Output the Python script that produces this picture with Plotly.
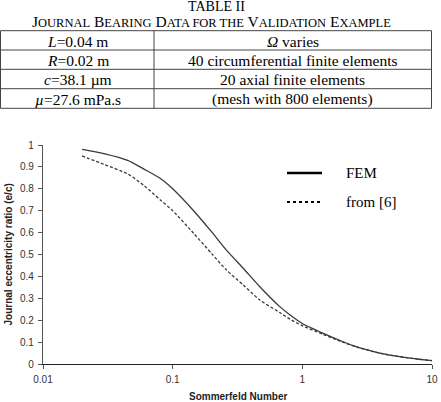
import plotly.graph_objects as go

# ---------------- data ----------------
sommerfeld = [0.02, 0.03, 0.045, 0.06, 0.08, 0.1, 0.145, 0.2, 0.26, 0.35, 0.47,
              0.67, 0.8, 1.0, 1.45, 2.0, 2.6, 3.5, 4.7, 7.0, 10.0]
ecc_fem = [0.98, 0.96, 0.93, 0.89, 0.848, 0.80, 0.70, 0.603, 0.52, 0.437, 0.353,
           0.262, 0.225, 0.185, 0.14, 0.105, 0.079, 0.058, 0.041, 0.026, 0.015]
ecc_ref = [0.95, 0.91, 0.868, 0.815, 0.75, 0.70, 0.597, 0.504, 0.429, 0.361, 0.292,
           0.235, 0.205, 0.175, 0.135, 0.102, 0.078, 0.057, 0.041, 0.026, 0.015]

x_tickvals = [0.01, 0.1, 1, 10]
x_ticktext = ["0.01", "0.1", "1", "10"]
y_tickvals = [0, 0.1, 0.2, 0.3, 0.4, 0.5, 0.6, 0.7, 0.8, 0.9, 1.0]
y_ticktext = ["0", "0.1", "0.2", "0.3", "0.4", "0.5", "0.6", "0.7", "0.8", "0.9", "1"]

table_left = ["<i>L</i>=0.04 m", "<i>R</i>=0.02 m", "<i>c</i>=38.1 µm", "<i>µ</i>=27.6 mPa.s"]
table_right = ["<i>Ω</i> varies", "40 circumferential finite elements",
               "20 axial finite elements", "(mesh with 800 elements)"]

series_names = ["FEM", "from [6]"]

# ---------------- layout helpers (pixels -> paper) ----------------
W, H = 441, 402
MB = 38                     # bottom margin
PH = H - MB                 # paper height (top margin 0)


def px_x(p):
    return p / W


def px_y(p):
    return (PH - p) / PH


SERIF = "Liberation Serif, Times New Roman, serif"
SANS = "Liberation Sans, Arial, sans-serif"
LINE_COL = "#3a3a3a"

fig = go.Figure()

fig.add_trace(go.Scatter(
    x=sommerfeld, y=ecc_fem, mode="lines", name=series_names[0],
    line=dict(color=LINE_COL, width=1.3, shape="spline", smoothing=0.6),
    showlegend=False))
fig.add_trace(go.Scatter(
    x=sommerfeld, y=ecc_ref, mode="lines", name=series_names[1],
    line=dict(color=LINE_COL, width=1.3, dash="3px,2px", shape="spline", smoothing=0.6),
    showlegend=False))

fig.update_layout(
    width=W, height=H,
    margin=dict(l=0, r=0, t=0, b=MB, pad=0),
    paper_bgcolor="white", plot_bgcolor="white",
    showlegend=False,
    xaxis=dict(type="log", range=[-2, 1], domain=[px_x(43), px_x(432)],
               tickvals=x_tickvals, ticktext=x_ticktext,
               ticks="outside", ticklen=4, tickwidth=1, tickcolor="#555",
               showline=True, linecolor="#222", linewidth=1.4,
               showgrid=False, zeroline=False, automargin=False,
               ticklabelstandoff=2,
               tickfont=dict(family=SANS, size=10, color="#333"),
               anchor="y"),
    yaxis=dict(range=[0, 1], domain=[0, px_y(145)],
               tickvals=y_tickvals, ticktext=y_ticktext,
               ticks="outside", ticklen=4, tickwidth=1, tickcolor="#555",
               showline=True, linecolor="#555", linewidth=1.4,
               showgrid=False, zeroline=False, automargin=False,
               ticklabelstandoff=2,
               tickfont=dict(family=SANS, size=10, color="#333"),
               anchor="x"),
)

# ---------------- table (lines + text) ----------------
row_lines_px = [30.7, 50.0, 69.3, 88.7, 108.3]
col_lines_px = [0.5, 154.0, 431.5]
col_centers_px = [77.5, 292.5]

shapes = []
for yp in row_lines_px:
    shapes.append(dict(type="line", xref="paper", yref="paper",
                       x0=px_x(col_lines_px[0]), x1=px_x(col_lines_px[-1]),
                       y0=px_y(yp), y1=px_y(yp),
                       line=dict(color="#444", width=1)))
for xp in col_lines_px:
    shapes.append(dict(type="line", xref="paper", yref="paper",
                       x0=px_x(xp), x1=px_x(xp),
                       y0=px_y(row_lines_px[0]), y1=px_y(row_lines_px[-1]),
                       line=dict(color="#444", width=1)))

annotations = []
for col, texts in enumerate([table_left, table_right]):
    for r, t in enumerate(texts):
        yc = (row_lines_px[r] + row_lines_px[r + 1]) / 2 + 0.8
        annotations.append(dict(text=t, x=px_x(col_centers_px[col]), y=px_y(yc),
                                xref="paper", yref="paper", showarrow=False,
                                xanchor="center", yanchor="middle",
                                font=dict(family=SERIF, size=15.5, color="black")))

sc = "<span style='font-size:12.5px'>{}</span>"
annotations += [
    dict(text="TABLE II", x=px_x(216), y=px_y(6.5), xref="paper", yref="paper",
         showarrow=False, xanchor="center", yanchor="middle",
         font=dict(family=SERIF, size=14, color="black")),
    dict(text=("J" + sc.format("OURNAL") + " B" + sc.format("EARING") + " D" + sc.format("ATA FOR THE")
               + " V" + sc.format("ALIDATION") + " E" + sc.format("XAMPLE")),
         x=px_x(30), y=px_y(21.5), xref="paper", yref="paper",
         showarrow=False, xanchor="left", yanchor="middle",
         font=dict(family=SERIF, size=15.5, color="black")),
    dict(text="<b>Sommerfeld Number</b>", x=px_x(238), y=px_y(397), xref="paper", yref="paper",
         showarrow=False, xanchor="center", yanchor="middle",
         font=dict(family=SANS, size=10, color="#222")),
    dict(text="<b>Journal eccentricity ratio (e/c)</b>", x=px_x(8), y=px_y(254.5),
         xref="paper", yref="paper", textangle=-90,
         showarrow=False, xanchor="center", yanchor="middle",
         font=dict(family=SANS, size=10, color="#222")),
    dict(text=series_names[0], x=px_x(344), y=px_y(173), xref="paper", yref="paper",
         showarrow=False, xanchor="left", yanchor="middle",
         font=dict(family=SERIF, size=15, color="black")),
    dict(text=series_names[1], x=px_x(344), y=px_y(202), xref="paper", yref="paper",
         showarrow=False, xanchor="left", yanchor="middle",
         font=dict(family=SERIF, size=15, color="black")),
]

shapes += [
    dict(type="line", xref="paper", yref="paper",
         x0=px_x(287), x1=px_x(322), y0=px_y(173), y1=px_y(173),
         line=dict(color="black", width=2.5)),
    dict(type="line", xref="paper", yref="paper",
         x0=px_x(287), x1=px_x(322), y0=px_y(202), y1=px_y(202),
         line=dict(color="black", width=2, dash="dot")),
]
fig.update_layout(shapes=shapes, annotations=annotations)

fig.write_html("out.html")
